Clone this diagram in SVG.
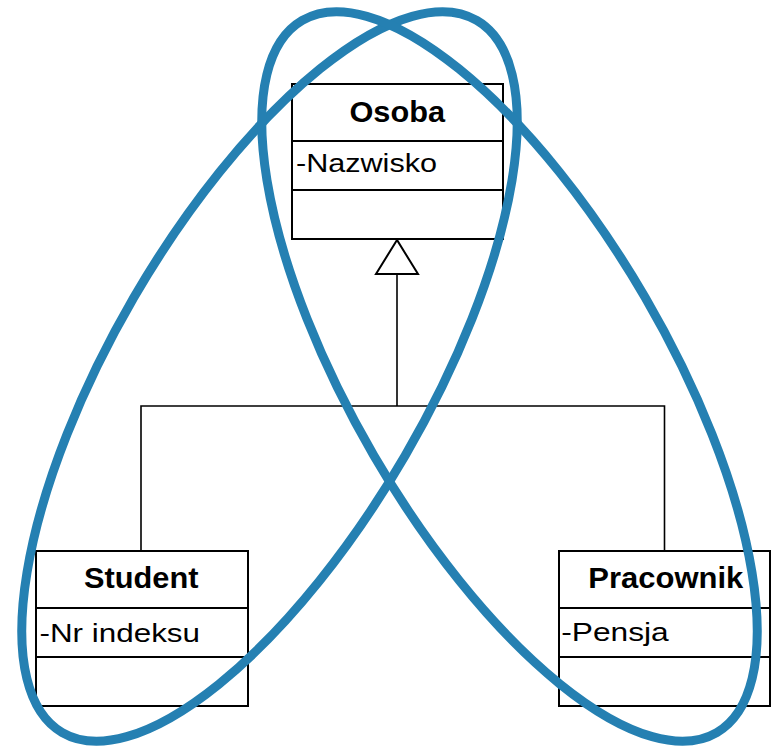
<svg xmlns="http://www.w3.org/2000/svg" width="771" height="748" viewBox="0 0 771 748">
  <style>
    .box { fill: #ffffff; stroke: #000000; stroke-width: 2; }
    .sep { stroke: #000000; stroke-width: 2; fill: none; }
    .title { font-family: "Liberation Sans", Arial, sans-serif; font-weight: bold; font-size: 29px; fill: #000000; }
    .attr { font-family: "Liberation Sans", Arial, sans-serif; font-size: 25.5px; fill: #000000; }
    .link { stroke: #000000; stroke-width: 1.6; fill: none; }
    .head { stroke: #000000; stroke-width: 2; fill: #ffffff; }
    .set { fill: none; stroke: #2580b2; stroke-width: 9; }
  </style>

  <!-- generalization connectors -->
  <g id="connectors">
    <polyline class="link" points="141,551 141,406 664.5,406 664.5,551"/>
    <line class="link" x1="397" y1="406" x2="397" y2="274"/>
    <polygon class="head" points="397,240 376,274 418,274"/>
  </g>

  <!-- class Osoba -->
  <g id="osoba">
    <rect class="box" x="292" y="84" width="211" height="155"/>
    <line class="sep" x1="292" y1="141" x2="503" y2="141"/>
    <line class="sep" x1="292" y1="190" x2="503" y2="190"/>
    <text class="title" x="349.5" y="121.7" textLength="95.5" lengthAdjust="spacingAndGlyphs">Osoba</text>
    <text class="attr" x="296" y="171.7" textLength="141" lengthAdjust="spacingAndGlyphs">-Nazwisko</text>
  </g>

  <!-- class Student -->
  <g id="student">
    <rect class="box" x="36" y="551" width="212" height="155"/>
    <line class="sep" x1="36" y1="608" x2="248" y2="608"/>
    <line class="sep" x1="36" y1="657" x2="248" y2="657"/>
    <text class="title" x="84" y="587.5" textLength="114.5" lengthAdjust="spacingAndGlyphs">Student</text>
    <text class="attr" x="39.5" y="641.5" textLength="160.5" lengthAdjust="spacingAndGlyphs">-Nr indeksu</text>
  </g>

  <!-- class Pracownik -->
  <g id="pracownik">
    <rect class="box" x="559" y="551" width="211" height="155"/>
    <line class="sep" x1="559" y1="608" x2="770" y2="608"/>
    <line class="sep" x1="559" y1="657" x2="770" y2="657"/>
    <text class="title" x="588.3" y="587.5" textLength="155" lengthAdjust="spacingAndGlyphs">Pracownik</text>
    <text class="attr" x="561.2" y="640.5" textLength="107.5" lengthAdjust="spacingAndGlyphs">-Pensja</text>
  </g>

  <!-- overlapping groupings drawn over the classes -->
  <g id="groupings">
    <ellipse class="set" cx="269.5" cy="376.5" rx="412" ry="157" transform="rotate(-59.8 269.5 376.5)"/>
    <ellipse class="set" cx="509.5" cy="376.5" rx="412" ry="157" transform="rotate(59.8 509.5 376.5)"/>
  </g>
</svg>
